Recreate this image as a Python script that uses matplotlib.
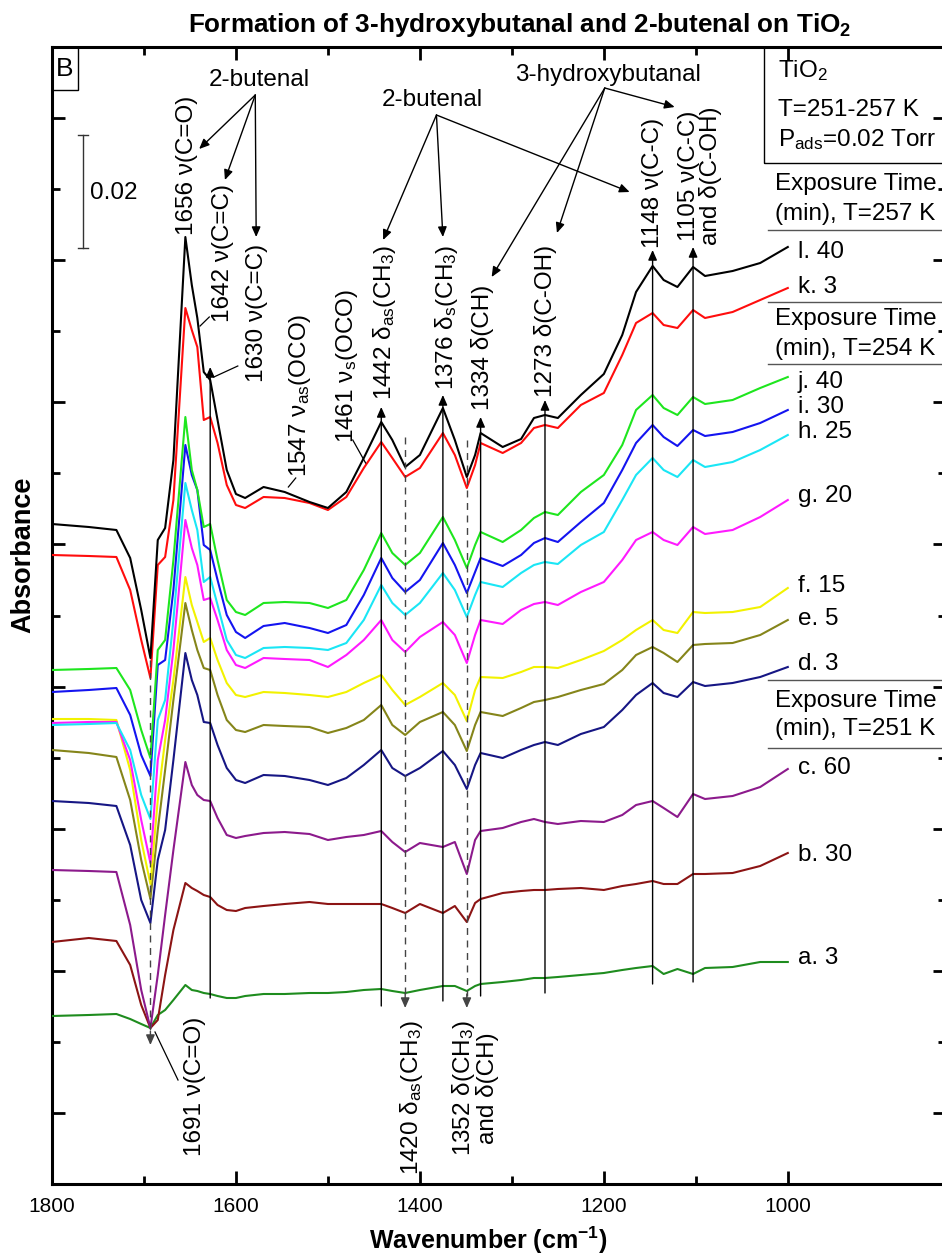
import numpy as np
import matplotlib
matplotlib.use("Agg")
from matplotlib import pyplot as plt
from matplotlib.patches import Rectangle

plt.rcParams["font.family"] = ["Liberation Sans", "DejaVu Sans"]
plt.rcParams["mathtext.fontset"] = "custom"
plt.rcParams["mathtext.rm"] = "Liberation Sans"
plt.rcParams["mathtext.it"] = "Liberation Sans:italic"
plt.rcParams["mathtext.bf"] = "Liberation Sans:bold"
plt.rcParams["mathtext.default"] = "regular"

# wavenumber grid (cm-1) shared by all spectra
wn = [1800, 1760, 1730, 1715, 1703, 1693, 1685, 1677, 1668, 1655,
      1648, 1642, 1635, 1628, 1620, 1610, 1600, 1590, 1570, 1547,
      1520, 1500, 1480, 1461, 1442, 1430, 1416, 1400, 1375, 1362,
      1349, 1340, 1334, 1310, 1290, 1276, 1264, 1250, 1225, 1200,
      1180, 1165, 1147, 1135, 1120, 1103, 1090, 1060, 1030, 1000]

# stacked absorbance (arbitrary offset units)
spec_l = [6.60, 6.57, 6.54, 6.26, 5.74, 5.26, 6.44, 6.56, 7.24, 9.47,
          8.99, 8.66, 8.12, 8.04, 7.64, 7.14, 6.90, 6.86, 6.97, 6.92,
          6.82, 6.76, 6.92, 7.26, 7.62, 7.44, 7.17, 7.29, 7.76, 7.44,
          7.07, 7.29, 7.51, 7.37, 7.45, 7.66, 7.69, 7.66, 7.89, 8.10,
          8.49, 8.92, 9.18, 9.04, 8.97, 9.17, 9.08, 9.13, 9.21, 9.37]
spec_k = [6.29, 6.28, 6.27, 5.94, 5.44, 5.06, 6.19, 6.27, 6.84, 8.76,
          8.54, 8.37, 7.64, 7.67, 7.41, 6.99, 6.79, 6.76, 6.87, 6.86,
          6.81, 6.74, 6.87, 7.16, 7.42, 7.26, 7.07, 7.16, 7.51, 7.29,
          6.96, 7.19, 7.41, 7.31, 7.41, 7.56, 7.59, 7.56, 7.79, 7.91,
          8.29, 8.61, 8.71, 8.59, 8.56, 8.74, 8.66, 8.72, 8.84, 8.96]
spec_j = [5.14, 5.15, 5.16, 4.94, 4.54, 4.26, 5.34, 5.44, 6.24, 7.67,
          7.14, 6.94, 6.57, 6.60, 6.24, 5.84, 5.72, 5.69, 5.81, 5.82,
          5.81, 5.76, 5.84, 6.14, 6.51, 6.31, 6.19, 6.31, 6.67, 6.44,
          6.16, 6.39, 6.52, 6.42, 6.54, 6.66, 6.72, 6.69, 6.92, 7.09,
          7.39, 7.74, 7.89, 7.76, 7.69, 7.87, 7.80, 7.84, 7.96, 8.07]
spec_i = [4.92, 4.94, 4.96, 4.69, 4.29, 4.08, 5.19, 5.24, 5.94, 7.39,
          7.09, 6.94, 6.39, 6.34, 6.04, 5.69, 5.52, 5.46, 5.58, 5.61,
          5.56, 5.51, 5.59, 5.89, 6.26, 6.06, 5.92, 6.04, 6.41, 6.19,
          5.91, 6.12, 6.26, 6.18, 6.29, 6.41, 6.46, 6.42, 6.62, 6.81,
          7.14, 7.41, 7.59, 7.47, 7.38, 7.54, 7.48, 7.52, 7.61, 7.74]
spec_h = [4.59, 4.60, 4.61, 4.34, 3.89, 3.65, 4.64, 4.84, 5.64, 7.01,
          6.74, 6.54, 6.02, 6.07, 5.79, 5.44, 5.29, 5.26, 5.36, 5.37,
          5.36, 5.34, 5.41, 5.64, 5.99, 5.81, 5.69, 5.81, 6.11, 5.94,
          5.67, 5.89, 6.02, 5.97, 6.11, 6.19, 6.22, 6.20, 6.39, 6.52,
          6.84, 7.09, 7.26, 7.14, 7.07, 7.24, 7.17, 7.22, 7.34, 7.49]
spec_g = [4.61, 4.62, 4.62, 4.24, 3.64, 3.21, 4.24, 4.64, 5.34, 6.64,
          6.36, 6.19, 5.84, 5.86, 5.64, 5.34, 5.19, 5.16, 5.26, 5.25,
          5.24, 5.17, 5.29, 5.44, 5.64, 5.44, 5.32, 5.47, 5.62, 5.49,
          5.21, 5.49, 5.64, 5.60, 5.74, 5.80, 5.82, 5.79, 5.92, 6.02,
          6.24, 6.44, 6.52, 6.44, 6.39, 6.57, 6.50, 6.54, 6.67, 6.84]
spec_f = [4.65, 4.65, 4.64, 4.14, 3.44, 3.00, 3.84, 4.44, 5.04, 6.07,
          5.79, 5.62, 5.42, 5.46, 5.24, 5.01, 4.89, 4.87, 4.92, 4.91,
          4.89, 4.87, 4.92, 5.01, 5.09, 4.94, 4.79, 4.87, 5.01, 4.89,
          4.63, 4.94, 5.07, 5.06, 5.12, 5.17, 5.17, 5.16, 5.24, 5.33,
          5.44, 5.54, 5.64, 5.54, 5.51, 5.72, 5.71, 5.72, 5.77, 5.96]
spec_e = [4.34, 4.31, 4.27, 3.84, 3.24, 2.85, 3.54, 4.14, 4.84, 5.81,
          5.54, 5.34, 5.16, 5.14, 4.89, 4.64, 4.54, 4.52, 4.59, 4.58,
          4.57, 4.51, 4.56, 4.64, 4.79, 4.59, 4.49, 4.62, 4.72, 4.59,
          4.33, 4.59, 4.72, 4.68, 4.76, 4.82, 4.84, 4.87, 4.94, 5.00,
          5.14, 5.29, 5.37, 5.31, 5.22, 5.39, 5.40, 5.41, 5.49, 5.64]
spec_d = [3.83, 3.81, 3.78, 3.39, 2.84, 2.61, 3.24, 3.54, 4.24, 5.31,
          5.04, 4.89, 4.62, 4.61, 4.39, 4.16, 4.04, 4.01, 4.09, 4.08,
          4.04, 3.99, 4.06, 4.19, 4.34, 4.16, 4.08, 4.16, 4.33, 4.19,
          3.95, 4.19, 4.31, 4.26, 4.34, 4.39, 4.42, 4.39, 4.50, 4.57,
          4.74, 4.89, 5.01, 4.91, 4.87, 5.02, 4.98, 5.01, 5.07, 5.17]
spec_c = [3.14, 3.13, 3.12, 2.59, 1.94, 1.56, 2.09, 2.69, 3.34, 4.22,
          3.99, 3.89, 3.84, 3.83, 3.66, 3.49, 3.46, 3.48, 3.51, 3.52,
          3.50, 3.44, 3.47, 3.49, 3.53, 3.42, 3.32, 3.41, 3.37, 3.42,
          3.10, 3.44, 3.53, 3.56, 3.62, 3.65, 3.62, 3.60, 3.63, 3.62,
          3.69, 3.79, 3.83, 3.76, 3.67, 3.90, 3.85, 3.88, 3.97, 4.15]
spec_b = [2.42, 2.46, 2.43, 2.19, 1.79, 1.56, 1.64, 2.09, 2.54, 3.01,
          2.96, 2.93, 2.89, 2.87, 2.79, 2.74, 2.73, 2.76, 2.78, 2.80,
          2.82, 2.80, 2.80, 2.80, 2.80, 2.76, 2.71, 2.80, 2.71, 2.78,
          2.62, 2.81, 2.85, 2.91, 2.93, 2.94, 2.94, 2.95, 2.96, 2.94,
          2.98, 3.00, 3.03, 3.00, 3.00, 3.10, 3.10, 3.11, 3.18, 3.31]
spec_a = [1.68, 1.69, 1.70, 1.65, 1.60, 1.56, 1.69, 1.74, 1.84, 1.99,
          1.94, 1.93, 1.91, 1.90, 1.88, 1.86, 1.86, 1.88, 1.90, 1.90,
          1.91, 1.91, 1.92, 1.94, 1.95, 1.93, 1.91, 1.94, 1.98, 1.98,
          1.93, 1.98, 2.00, 2.02, 2.04, 2.06, 2.06, 2.07, 2.09, 2.11,
          2.14, 2.16, 2.18, 2.10, 2.15, 2.10, 2.16, 2.17, 2.22, 2.22]

spectra = [spec_a, spec_b, spec_c, spec_d, spec_e, spec_f,
           spec_g, spec_h, spec_i, spec_j, spec_k, spec_l]
names = ["a. 3", "b. 30", "c. 60", "d. 3", "e. 5", "f. 15",
         "g. 20", "h. 25", "i. 30", "j. 40", "k. 3", "l. 40"]
colors = ["#1e8c1e", "#8c1414", "#8c1a8c", "#161684", "#85851a", "#f2f200",
          "#ff1aff", "#1ae6f5", "#1414f0", "#1ee61e", "#ff0d0d", "#000000"]
name_y = [2.20, 3.23, 4.10, 5.14, 5.59, 5.92, 6.82, 7.46, 7.71, 7.96, 8.91, 9.26]

fig = plt.figure(figsize=(9.42, 12.56), dpi=100)
ax = fig.add_axes([52 / 942, 72 / 1256, 894 / 942, 1137 / 1256])

for s, c in zip(spectra, colors):
    ax.plot(wn, s, color=c, lw=1.5, zorder=3)

ax.set_xlim(1800, 828)
ax.set_ylim(0, 11.37)
step = 11.37 / 16
ax.set_yticks([k * step for k in range(1, 16, 2)])
ax.set_yticks([k * step for k in range(2, 16, 2)], minor=True)
ax.set_yticklabels([])
ax.set_xticks([1800, 1600, 1400, 1200, 1000])
ax.set_xticks([1700, 1500, 1300, 1100], minor=True)
ax.tick_params(which="both", direction="in", top=True, right=True, width=2,
               labelsize=15, pad=9)
ax.tick_params(which="major", length=9.5)
ax.tick_params(which="minor", length=5.5)
for sp in ax.spines.values():
    sp.set_linewidth(2.2)

fs = 17.5
ahead = "-|>,head_length=0.5,head_width=0.22"


def arrow(x0, y0, x1, y1, col="k"):
    ax.annotate("", xy=(x1, y1), xytext=(x0, y0),
                arrowprops=dict(arrowstyle=ahead, lw=1.0, color=col,
                                mutation_scale=12, shrinkA=0, shrinkB=0),
                zorder=4)


def leader(x0, y0, x1, y1):
    ax.plot([x0, x1], [y0, y1], color="k", lw=0.9, zorder=4)


# solid marker lines with arrow on top
for w, v0, v1 in [(1628, 1.86, 8.17), (1442, 1.78, 7.77), (1375, 1.83, 7.89),
                  (1334, 1.88, 7.67), (1264, 1.91, 7.84), (1147, 2.00, 9.34),
                  (1103, 2.02, 9.37)]:
    arrow(w, v0, w, v1)

# dashed marker lines with arrow at the bottom
for w, v0, v1 in [(1693, 5.24, 1.39), (1416, 7.47, 1.76), (1349, 7.44, 1.76)]:
    ax.plot([w, w], [v0, v1 + 0.12], color="#444444", lw=1.0,
            ls=(0, (5, 4)), zorder=4)
    arrow(w, v1 + 0.14, w, v1, col="#444444")

# rotated peak labels (top)
top_labels = [
    (1653, 9.49, "1656 ν(C=O)"),
    (1614, 8.62, "1642 ν(C=C)"),
    (1577, 8.02, "1630 ν(C=C)"),
    (1530, 7.07, "1547 ν$_{as}$(OCO)"),
    (1479, 7.41, "1461 ν$_{s}$(OCO)"),
    (1438, 7.84, "1442 δ$_{as}$(CH$_{3}$)"),
    (1371, 7.94, "1376 δ$_{s}$(CH$_{3}$)"),
    (1332, 7.74, "1334 δ(CH)"),
    (1263, 7.87, "1273 δ(C-OH)"),
    (1147, 9.36, "1148 ν(C-C)"),
    (1095, 9.39, "1105 ν(C-C)\nand δ(C-OH)"),
]
for w, v, s in top_labels:
    ax.text(w, v, s, rotation=90, ha="center", va="bottom", fontsize=fs,
            multialignment="center", linespacing=0.95, zorder=5)

bottom_labels = [
    (1645, 1.67, "1691 ν(C=O)"),
    (1409, 1.64, "1420 δ$_{as}$(CH$_{3}$)"),
    (1341, 1.64, "1352 δ(CH$_{3}$)\nand δ(CH)"),
]
for w, v, s in bottom_labels:
    ax.text(w, v, s, rotation=90, ha="center", va="top", fontsize=fs,
            multialignment="center", linespacing=0.95, zorder=5)

leader(1639, 8.58, 1629, 8.67)
leader(1624, 8.07, 1598, 8.18)
leader(1543, 6.97, 1535, 7.06)
leader(1459, 7.21, 1473, 7.44)
leader(1688, 1.52, 1663, 1.04)

# group labels with arrows
ax.text(1575, 11.04, "2-butenal", ha="center", va="center", fontsize=fs)
for x1, y1 in [(1640, 10.35), (1612, 10.04), (1578, 9.47)]:
    arrow(1579, 10.89, x1, y1)
ax.text(1387, 10.84, "2-butenal", ha="center", va="center", fontsize=fs)
for x1, y1 in [(1440, 9.44), (1375, 9.47), (1172, 9.92)]:
    arrow(1382, 10.69, x1, y1)
ax.text(1196, 11.09, "3-hydroxybutanal", ha="center", va="center", fontsize=fs)
for x1, y1 in [(1322, 9.07), (1251, 9.51), (1123, 10.77)]:
    arrow(1199, 10.96, x1, y1)

# scale bar
ax.plot([1766, 1766], [9.36, 10.49], color="#333333", lw=1.0)
ax.plot([1772, 1761], [9.36, 9.36], color="#333333", lw=1.0)
ax.plot([1772, 1761], [10.49, 10.49], color="#333333", lw=1.0)
ax.text(1759, 9.91, "0.02", ha="left", va="center", fontsize=fs)

# panel letter
ax.add_patch(Rectangle((1800, 10.94), -28.3, 0.43, fill=False, lw=1.0,
                       ec="k", zorder=5))
ax.text(1786, 11.15, "B", ha="center", va="center", fontsize=19)

# info box
ax.add_patch(Rectangle((1026, 10.21), -220, 1.3, fill=False, lw=1.0,
                       ec="k", clip_on=True, zorder=5))
ax.text(1011, 11.07, "TiO$_{2}$", ha="left", va="baseline", fontsize=fs)
ax.text(1011, 10.68, "T=251-257 K", ha="left", va="baseline", fontsize=fs)
ax.text(1011, 10.38, "P$_{ads}$=0.02 Torr", ha="left", va="baseline", fontsize=fs)

# exposure-time group headers
headers = [(9.94, 9.64, "257", None, 9.54),
           (8.59, 8.29, "254", 8.82, 8.20),
           (4.77, 4.49, "251", 5.04, 4.36)]
for y1, y2, temp, top, bot in headers:
    ax.text(1014, y1, "Exposure Time", ha="left", va="baseline", fontsize=fs)
    ax.text(1014, y2, "(min), T=%s K" % temp, ha="left", va="baseline",
            fontsize=fs)
    for yy in (top, bot):
        if yy is not None:
            ax.plot([1021, 800], [yy, yy], color="#555555", lw=1.0)

for n, yy in zip(names, name_y):
    ax.text(989, yy, n, ha="left", va="baseline", fontsize=fs)

fig.text(520 / 942, 1 - 25 / 1256, "Formation of 3-hydroxybutanal and 2-butenal on TiO$_{2}$",
         ha="center", va="center", fontsize=18.8, fontweight="bold")
fig.text(23 / 942, 1 - 555 / 1256, "Absorbance", rotation=90, ha="center",
         va="center", fontsize=19.5, fontweight="bold")
fig.text(488 / 942, 1 - 1240 / 1256, "Wavenumber (cm$^{-1}$)", ha="center",
         va="center", fontsize=18, fontweight="bold")

fig.savefig("out.png", dpi=100)
